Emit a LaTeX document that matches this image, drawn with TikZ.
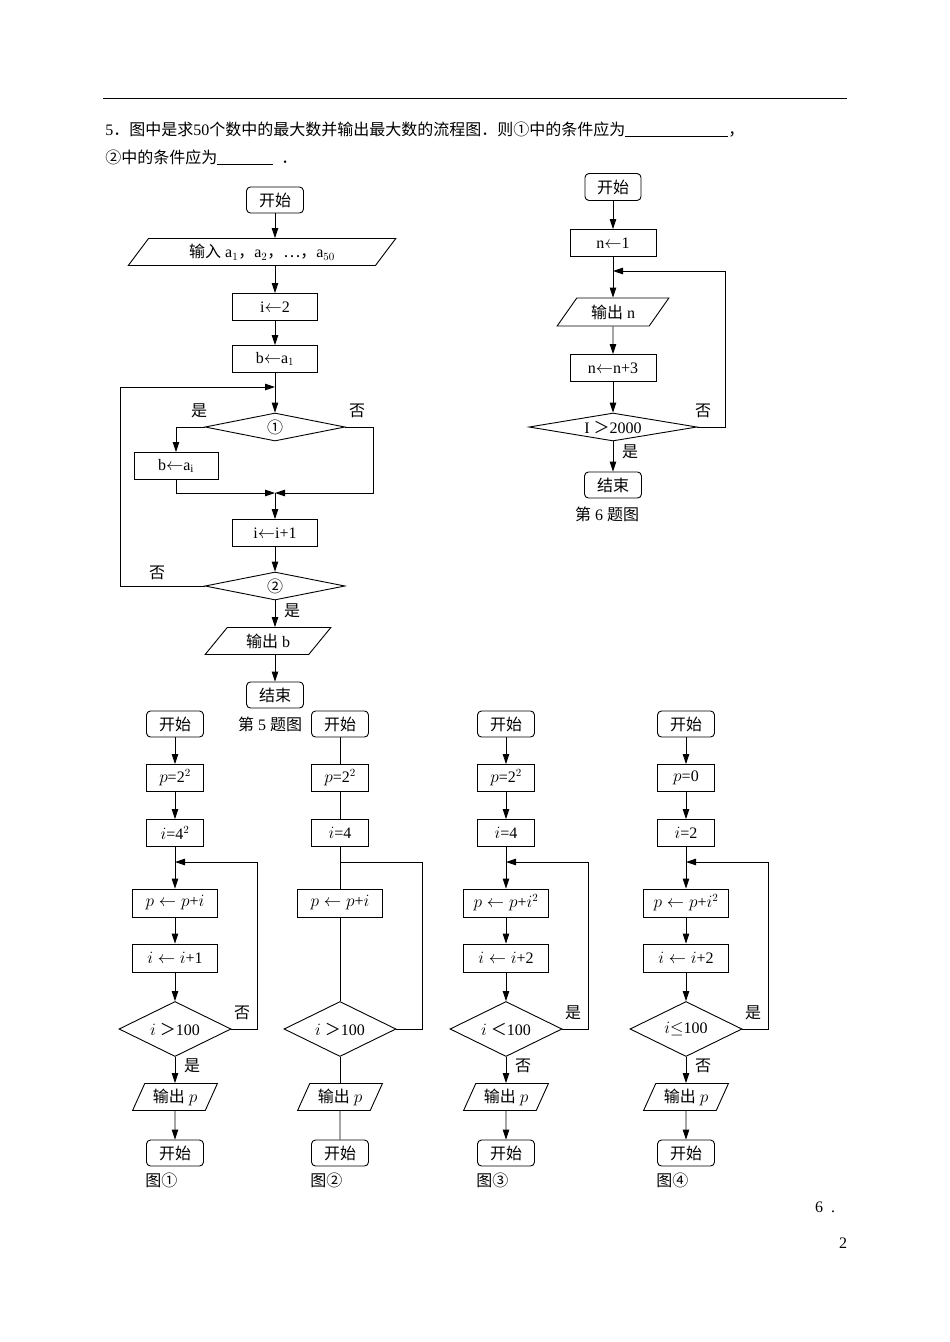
\documentclass[tikz,border=0pt]{standalone}
\usepackage{fontspec}
\setmainfont{Liberation Serif}
\newfontfamily\cjk{Noto Sans CJK SC}
\usetikzlibrary{shapes.geometric,arrows.meta}
\newcommand{\zh}[1]{{\cjk #1}}
\begin{document}
\begin{tikzpicture}[x=1pt,y=-1pt,font=\fontsize{16}{18}\selectfont,
  line width=0.9pt,
  arr/.style={-{Triangle[length=10pt,width=6.5pt]}},
  term/.style={draw,rounded corners=4pt,minimum width=57pt,minimum height=26pt,inner sep=0pt},
  box/.style={draw,minimum width=85pt,minimum height=27pt,inner sep=0pt},
  sbox/.style={draw,minimum width=57pt,minimum height=27pt,inner sep=0pt},
  mbox/.style={draw,minimum width=85pt,minimum height=28pt,inner sep=0pt},
  io/.style={draw,trapezium,trapezium left angle=#1,trapezium right angle=180-#1,trapezium stretches=true,inner sep=0pt},
  dia/.style={draw,diamond,inner sep=0pt},
  lab/.style={inner sep=0pt}]
\useasboundingbox (0,0) rectangle (950,1342);
\draw[line width=1pt] (103,98) -- (847,98);
\node[lab,anchor=base west] (t1) at (105,135) {5\zh{．图中是求}50\zh{个数中的最大数并输出最大数的流程图．则①中的条件应为}\underline{\hspace{103pt}}\zh{，}};
\node[lab,anchor=base west] (t2) at (105,163) {\zh{②中的条件应为}\underline{\hspace{56pt}}\ \ \zh{．}};

% ---- Fig 5
\node[term] (s5) at (275,200) {\zh{开始}};
\node[io=51,minimum width=268pt,minimum height=27pt] (in5) at (262,252) {\zh{输入} a$_1$\zh{，}a$_2$\zh{，}\zh{…}\zh{，}a$_{50}$};
\node[box] (i2) at (275,307) {i$\leftarrow$2};
\node[box] (b1) at (275,359) {b$\leftarrow$a$_1$};
\coordinate (j1) at (275,387);
\node[dia,aspect=5,minimum width=140pt,minimum height=28pt] (d1) at (275,427) {\zh{①}};
\node[box,minimum width=84pt] (bi) at (176,466) {b$\leftarrow$a$_\mathrm{i}$};
\coordinate (j2) at (275,493);
\node[box] (ii) at (275,533) {i$\leftarrow$i+1};
\node[dia,aspect=5,minimum width=140pt,minimum height=28pt] (d2) at (275,586) {\zh{②}};
\node[io=51,minimum width=126pt,minimum height=27pt] (o5) at (268,641) {\zh{输出} b};
\node[term] (e5) at (275,695) {\zh{结束}};
\node[lab] (c5) at (270,724) {\zh{第} 5 \zh{题图}};
\draw[arr] (s5) -- (in5.north -| s5);
\draw[arr] (in5.south -| i2) -- (i2);
\draw[arr] (i2) -- (b1);
\draw[arr] (b1) -- (d1);
\draw[arr] (d2.west) -- (120,586) |- (j1);
\draw[arr] (d1.west) -| (bi.north);
\draw[arr] (bi.south) |- (j2);
\draw[arr] (d1.east) -- (373,427) |- (j2);
\draw[arr] (j2) -- (ii);
\draw[arr] (ii) -- (d2);
\draw[arr] (d2) -- (o5.north -| d2);
\draw[arr] (o5.south -| e5) -- (e5);
\node[lab] at (199,411) {\zh{是}};
\node[lab] at (357,411) {\zh{否}};
\node[lab] at (157,573) {\zh{否}};
\node[lab] at (292,611) {\zh{是}};

% ---- Fig 6
\node[term,minimum width=56pt,minimum height=27pt] (s6) at (613,187) {\zh{开始}};
\node[box,minimum width=86pt] (n1) at (613,243) {n$\leftarrow$1};
\coordinate (j6) at (613,271);
\node[io=51,minimum width=112pt,minimum height=28pt] (o6) at (613,312) {\zh{输出} n};
\node[box,minimum width=86pt] (n3) at (613,368) {n$\leftarrow$n+3};
\node[dia,aspect=6,minimum width=168pt,minimum height=28pt] (d6) at (613,427) {I \zh{＞}2000};
\node[term] (e6) at (613,485) {\zh{结束}};
\node[lab] (c6) at (607,514) {\zh{第} 6 \zh{题图}};
\draw[arr] (s6) -- (n1);
\draw[arr] (n1) -- (o6);
\draw[arr] (o6) -- (n3);
\draw[arr] (n3) -- (d6);
\draw[arr] (d6.east) -- (725,427) |- (j6);
\draw[arr] (d6) -- (e6);
\node[lab] at (703,411) {\zh{否}};
\node[lab] at (630,452) {\zh{是}};

% ---- bottom figures
\foreach \k/\x/\pa/\ia/\pb/\ib/\cnd/\lr/\ld/\cap in {
  1/175/{$p$=2$^2$}/{$i$=4$^2$}/{$p\leftarrow p$+$i$}/{$i\leftarrow i$+1}/{$i$ \zh{＞}100}/否/是/①,
  3/506/{$p$=2$^2$}/{$i$=4}/{$p\leftarrow p$+$i^2$}/{$i\leftarrow i$+2}/{$i$ \zh{＜}100}/是/否/③,
  4/686/{$p$=0}/{$i$=2}/{$p\leftarrow p$+$i^2$}/{$i\leftarrow i$+2}/{$i$$\leq$100}/是/否/④}{
  \node[term] (s\k) at (\x,724) {\zh{开始}};
  \node[sbox] (p\k) at (\x,778) {\pa};
  \node[sbox] (i\k) at (\x,833) {\ia};
  \coordinate (j\k) at (\x,862);
  \node[mbox] (q\k) at (\x,903) {\pb};
  \node[mbox] (r\k) at (\x,958) {\ib};
  \node[dia,aspect=2,minimum width=112pt,minimum height=55pt] (d\k) at (\x,1029) {\cnd};
  \node[io=62,minimum width=85pt,minimum height=27pt] (o\k) at (\x,1097) {\zh{输出} $p$};
  \node[term] (e\k) at (\x,1153) {\zh{开始}};
  \node[lab,anchor=west] (c\k) at (\x-30,1180) {\zh{图\cap}};
  \draw[arr] (s\k) -- (p\k);
  \draw[arr] (p\k) -- (i\k);
  \draw[arr] (i\k) -- (q\k);
  \draw[arr] (q\k) -- (r\k);
  \draw[arr] (r\k) -- (d\k);
  \draw[arr] (d\k.east) -- (\x+82,1029) |- (j\k);
  \draw[arr] (d\k) -- (o\k);
  \draw[arr] (o\k) -- (e\k);
  \node[lab] at (\x+67,1013) {\zh{\lr}};
  \node[lab] at (\x+17,1066) {\zh{\ld}};
}
% fig 2 (no arrowheads)
\node[term] (s2) at (340,724) {\zh{开始}};
\node[sbox] (p2) at (340,778) {$p$=2$^2$};
\node[sbox] (i2b) at (340,833) {$i$=4};
\coordinate (j2b) at (340,862);
\node[mbox] (q2) at (340,903) {$p\leftarrow p$+$i$};
\node[dia,aspect=2,minimum width=112pt,minimum height=55pt] (d2b) at (340,1029) {$i$ \zh{＞}100};
\node[io=62,minimum width=85pt,minimum height=27pt] (o2) at (340,1097) {\zh{输出} $p$};
\node[term] (e2) at (340,1153) {\zh{开始}};
\node[lab,anchor=west] (c2) at (310,1180) {\zh{图②}};
\draw (s2) -- (p2);
\draw (p2) -- (i2b);
\draw (i2b) -- (q2);
\draw (q2) -- (d2b);
\draw (d2b.east) -- (422,1029) |- (j2b);
\draw (d2b) -- (o2);
\draw (o2) -- (e2);

\node[lab] (pg1) at (825,1207) {6\ \ .};
\node[lab] (pg2) at (843,1243) {2};
\end{tikzpicture}
\end{document}
